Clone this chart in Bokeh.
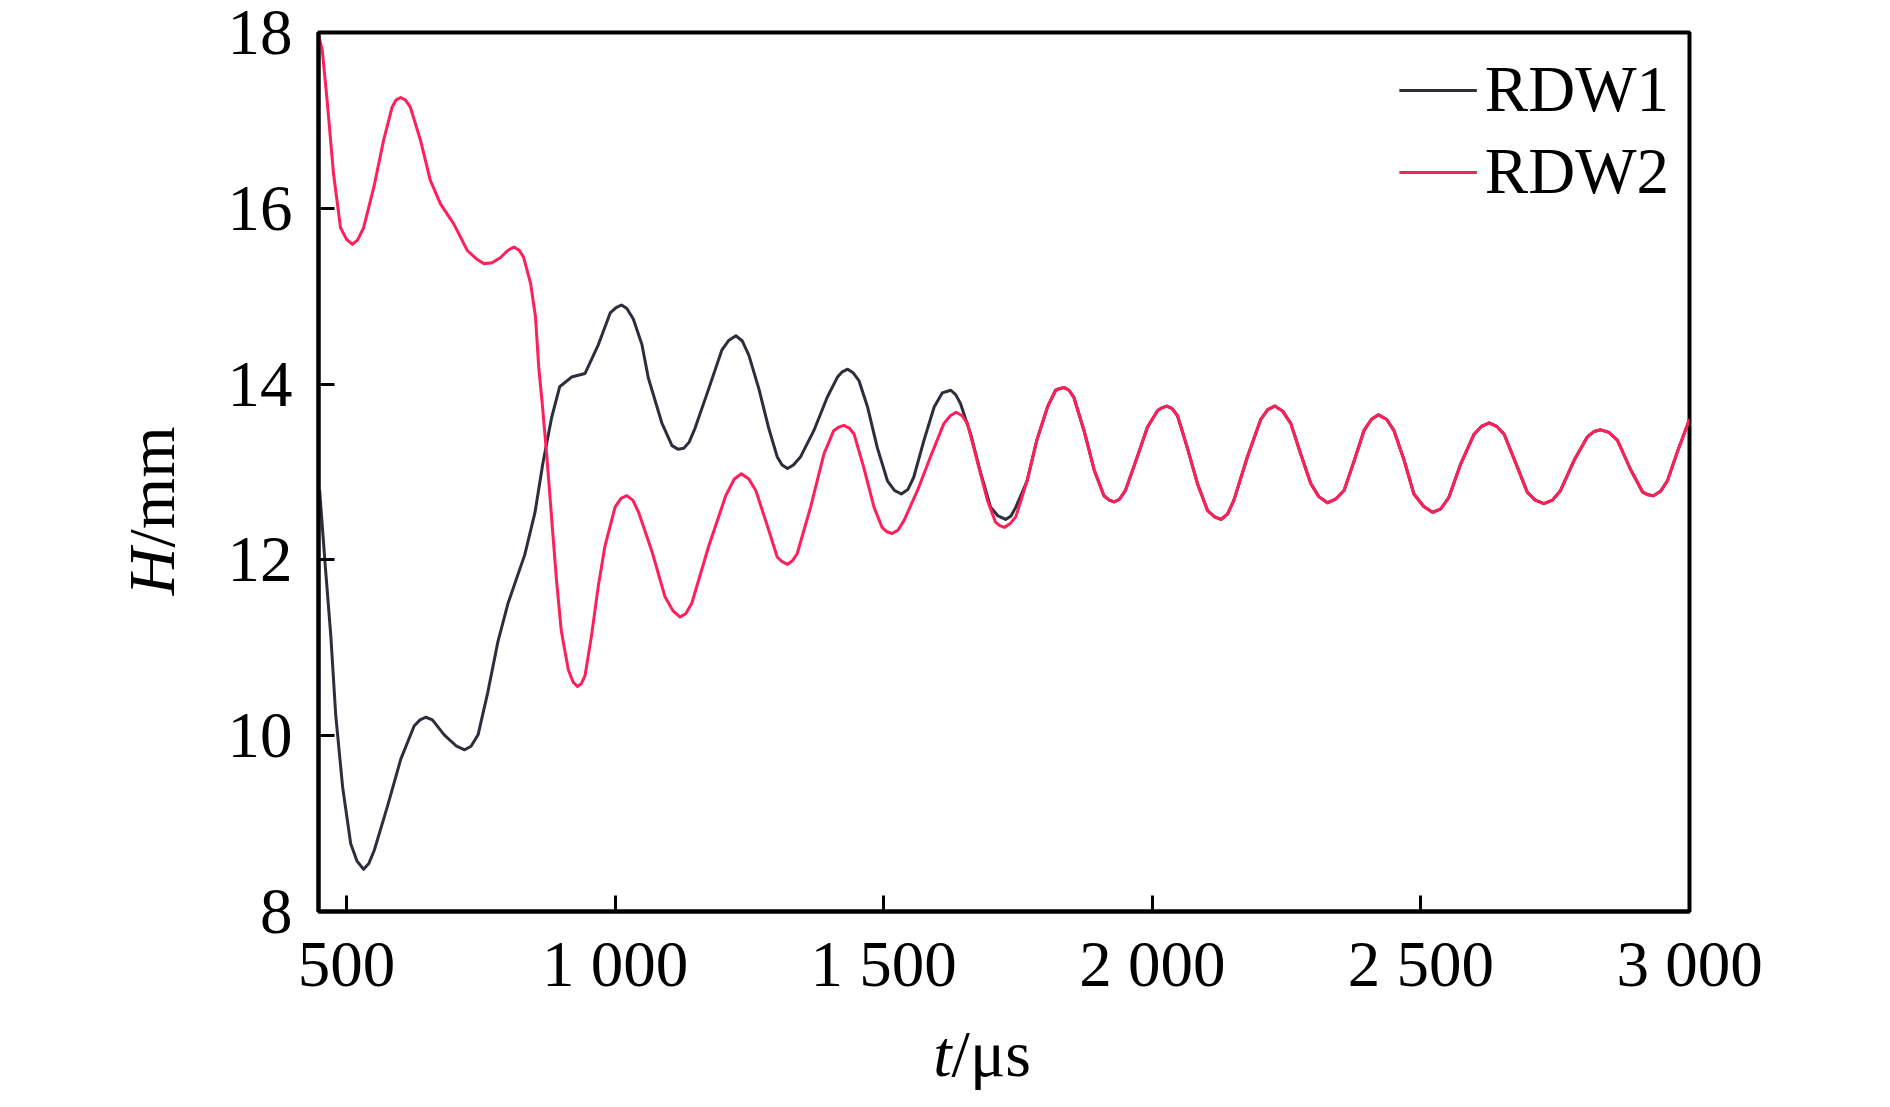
import math
from bokeh.plotting import figure
from bokeh.models import Range1d, FixedTicker, Legend, LegendItem
from bokeh.layouts import row, column
from bokeh.core.properties import value
from bokeh.embed import file_html
from bokeh.resources import INLINE

# ---- data ----
rdw1_t = [450, 461, 471, 480, 493, 508, 520, 532, 542, 552,
          577, 601, 626, 637, 648, 660, 682, 705, 720, 732,
          745, 763, 782, 801, 832, 851, 866, 882, 897, 919,
          944, 969, 991, 1002, 1012, 1022, 1034, 1050, 1062, 1087,
          1106, 1117, 1128, 1138, 1149, 1174, 1199, 1212, 1225, 1237,
          1249, 1268, 1286, 1302, 1311, 1321, 1332, 1345, 1370, 1395,
          1414, 1423, 1433, 1443, 1454, 1470, 1488, 1507, 1520, 1533,
          1545, 1556, 1575, 1594, 1609, 1625, 1634, 1643, 1662, 1681,
          1699, 1713, 1727, 1737, 1746]
rdw1_h = [12.80, 11.90, 11.13, 10.24, 9.41, 8.77, 8.57, 8.48, 8.55, 8.70,
          9.21, 9.73, 10.11, 10.18, 10.21, 10.18, 10.01, 9.88, 9.84, 9.88,
          10.01, 10.49, 11.07, 11.51, 12.06, 12.54, 13.11, 13.62, 13.97, 14.08,
          14.12, 14.45, 14.81, 14.87, 14.90, 14.86, 14.74, 14.45, 14.07, 13.56,
          13.30, 13.26, 13.27, 13.34, 13.50, 13.94, 14.39, 14.50, 14.55, 14.49,
          14.33, 13.94, 13.50, 13.17, 13.08, 13.04, 13.08, 13.17, 13.47, 13.85,
          14.08, 14.14, 14.17, 14.13, 14.04, 13.74, 13.28, 12.90, 12.79, 12.75,
          12.80, 12.94, 13.36, 13.74, 13.90, 13.93, 13.88, 13.78, 13.43, 12.98,
          12.60, 12.50, 12.46, 12.50, 12.60]

rdw2_t = [449, 455, 464, 476, 489, 500, 511, 521, 532, 551,
          569, 585, 592, 601, 610, 619, 638, 656, 675, 700,
          725, 741, 756, 771, 787, 800, 812, 822, 830, 843,
          852, 858, 864, 873, 882, 891, 900, 913, 922, 930,
          937, 944, 956, 969, 981, 1000, 1011, 1022, 1033, 1044,
          1069, 1093, 1108, 1121, 1132, 1143, 1174, 1206, 1222, 1235,
          1249, 1262, 1286, 1302, 1311, 1321, 1330, 1339, 1364, 1389,
          1407, 1416, 1426, 1436, 1445, 1463, 1482, 1497, 1506, 1516,
          1527, 1538, 1563, 1587, 1612, 1624, 1635, 1646, 1656, 1674,
          1693, 1708, 1716, 1725, 1735, 1746, 1767, 1785, 1805, 1820,
          1828, 1836, 1845, 1854, 1873, 1892, 1910, 1920, 1929, 1939,
          1950, 1972, 1991, 2010, 2018, 2027, 2037, 2047, 2065, 2084,
          2103, 2116, 2128, 2140, 2152, 2177, 2202, 2215, 2228, 2243,
          2258, 2276, 2295, 2310, 2326, 2341, 2357, 2376, 2394, 2408,
          2421, 2436, 2450, 2469, 2487, 2505, 2522, 2537, 2552, 2574,
          2599, 2613, 2627, 2641, 2655, 2680, 2698, 2713, 2729, 2745,
          2760, 2785, 2810, 2822, 2835, 2850, 2866, 2891, 2913, 2923,
          2933, 2946, 2959, 2978, 3000]
rdw2_h = [17.95, 17.80, 17.23, 16.39, 15.78, 15.65, 15.59, 15.64, 15.78, 16.24,
          16.77, 17.15, 17.23, 17.26, 17.23, 17.15, 16.77, 16.32, 16.05, 15.82,
          15.52, 15.43, 15.37, 15.38, 15.44, 15.52, 15.56, 15.52, 15.44, 15.14,
          14.76, 14.19, 13.81, 13.18, 12.47, 11.77, 11.19, 10.75, 10.61, 10.56,
          10.59, 10.68, 11.13, 11.71, 12.15, 12.60, 12.70, 12.73, 12.68, 12.54,
          12.09, 11.58, 11.42, 11.35, 11.39, 11.51, 12.15, 12.73, 12.92, 12.98,
          12.92, 12.79, 12.34, 12.03, 11.98, 11.95, 11.99, 12.07, 12.60, 13.21,
          13.47, 13.51, 13.53, 13.50, 13.43, 13.05, 12.60, 12.37, 12.32, 12.30,
          12.34, 12.45, 12.79, 13.17, 13.55, 13.64, 13.68, 13.64, 13.55, 13.13,
          12.68, 12.43, 12.39, 12.37, 12.41, 12.49, 12.90, 13.36, 13.74, 13.93,
          13.95, 13.96, 13.93, 13.85, 13.47, 13.02, 12.73, 12.68, 12.66, 12.69,
          12.79, 13.17, 13.51, 13.70, 13.73, 13.75, 13.72, 13.64, 13.28, 12.87,
          12.56, 12.49, 12.46, 12.52, 12.68, 13.17, 13.60, 13.71, 13.75, 13.69,
          13.55, 13.21, 12.87, 12.72, 12.65, 12.69, 12.79, 13.13, 13.47, 13.60,
          13.65, 13.60, 13.47, 13.13, 12.75, 12.61, 12.54, 12.58, 12.71, 13.09,
          13.43, 13.52, 13.56, 13.52, 13.43, 13.05, 12.77, 12.68, 12.64, 12.68,
          12.79, 13.13, 13.40, 13.46, 13.48, 13.45, 13.36, 13.02, 12.77, 12.74,
          12.73, 12.78, 12.90, 13.24, 13.60]

x_ticks = [500, 1000, 1500, 2000, 2500, 3000]
x_tick_labels = ["500", "1 000", "1 500", "2 000", "2 500", "3 000"]
y_ticks = [8, 10, 12, 14, 16, 18]
series_names = ["RDW1", "RDW2"]
x_title = ["t", "/\u03bcs"]
y_title = ["H", "/mm"]

# after ~1750 us RDW1 coincides with RDW2 (hidden beneath it)
tail = [(t, h) for t, h in zip(rdw2_t, rdw2_h) if t > rdw1_t[-1]]
rdw1_t_full = rdw1_t + [t for t, _ in tail]
rdw1_h_full = rdw1_h + [h for _, h in tail]

FONT = "Liberation Serif"
BLACK_LINE = "#2c2f3b"
RED_LINE = "#ff1f5b"

LEFT_W = 200
MAIN_W = 1674
MAIN_H = 1002
BOT_H = 89
TOTAL_H = MAIN_H + BOT_H

p = figure(width=MAIN_W, height=MAIN_H, output_backend="svg", toolbar_location=None,
           title=None,
           x_range=Range1d(448, 3000), y_range=Range1d(8, 18),
           min_border_left=118, min_border_right=185,
           min_border_top=32, min_border_bottom=MAIN_H - 911)
p.background_fill_color = "white"
p.border_fill_color = "white"
p.grid.visible = False
p.outline_line_color = "black"
p.outline_line_width = 4

r1 = p.line(rdw1_t_full, rdw1_h_full, line_color=BLACK_LINE, line_width=3, line_join="round")
r2 = p.line(rdw2_t, rdw2_h, line_color=RED_LINE, line_width=3, line_join="round")

for ax in (p.xaxis[0], p.yaxis[0]):
    ax.axis_line_width = 4
    ax.axis_line_color = "black"
    ax.major_tick_in = 16
    ax.major_tick_out = 0
    ax.major_tick_line_width = 3
    ax.major_tick_line_color = "black"
    ax.minor_tick_line_color = None
    ax.major_label_text_font = FONT
    ax.major_label_text_font_size = "65px"
    ax.major_label_text_color = "black"

p.xaxis[0].ticker = FixedTicker(ticks=x_ticks)
p.xaxis[0].major_label_overrides = {t: s for t, s in zip(x_ticks, x_tick_labels)}
p.xaxis[0].major_label_standoff = 16
p.yaxis[0].ticker = FixedTicker(ticks=y_ticks)
p.yaxis[0].major_label_standoff = 26

legend = Legend(items=[LegendItem(label=series_names[0], renderers=[r1]),
                       LegendItem(label=series_names[1], renderers=[r2])],
                location="top_right", margin=20, padding=0, spacing=7,
                glyph_width=78, glyph_height=20, label_standoff=8,
                label_text_font=FONT, label_text_font_size="65px",
                label_text_color="black",
                border_line_alpha=0, background_fill_alpha=0)
p.add_layout(legend)


def text_panel(w, h):
    f = figure(width=w, height=h, output_backend="svg", toolbar_location=None,
               title=None,
               x_range=Range1d(0, w), y_range=Range1d(h, 0),
               x_axis_type=None, y_axis_type=None,
               min_border=0, min_border_left=0, min_border_right=0,
               min_border_top=0, min_border_bottom=0)
    f.grid.visible = False
    f.outline_line_color = None
    f.background_fill_color = "white"
    f.border_fill_color = "white"
    return f


# y-axis title panel (left of the main plot)
lp = text_panel(LEFT_W, TOTAL_H)
lp.text(x=[151], y=[547], text=[y_title[0]], text_font=value(FONT), text_font_style="italic",
        text_font_size="66px", text_align="right", text_baseline="alphabetic",
        angle=math.pi / 2, text_color="black")
lp.text(x=[151], y=[547], text=[y_title[1]], text_font=value(FONT),
        text_font_size="66px", text_align="left", text_baseline="alphabetic",
        angle=math.pi / 2, text_color="black")

# x-axis title panel (below the main plot)
bp = text_panel(MAIN_W, BOT_H)
bp.text(x=[773], y=[51], text=[x_title[0]], text_font=value(FONT), text_font_style="italic",
        text_font_size="66px", text_align="right", text_baseline="alphabetic",
        text_color="black")
bp.text(x=[773], y=[51], text=[x_title[1]], text_font=value(FONT),
        text_font_size="66px", text_align="left", text_baseline="alphabetic",
        text_color="black")

layout = row(lp, column(p, bp, spacing=0), spacing=0)

open("out.html", "w").write(file_html(layout, INLINE))
